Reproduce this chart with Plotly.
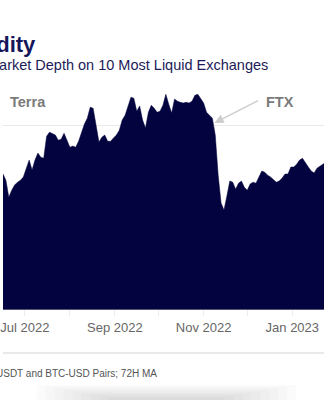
import pandas as pd
import plotly.graph_objects as go

# 2% market depth, BTC-USDT and BTC-USD pairs, 72H moving average ($M), sampled every 2 days
start_date = "2022-06-14"
depth_musd = [
    350, 367, 350, 304, 323, 337, 345, 350, 359, 383, 405, 378, 405, 424, 413, 410,
    470, 481, 478, 473, 459, 462, 478, 459, 440, 443, 440, 456, 481, 503, 519, 549,
    546, 497, 454, 467, 473, 456, 456, 465, 473, 486, 514, 527, 549, 576, 573, 538,
    552, 514, 492, 535, 554, 546, 535, 538, 554, 584, 557, 533, 571, 565, 562, 560,
    562, 560, 565, 581, 584, 573, 560, 535, 527, 519, 473, 364, 288, 269, 307, 348,
    345, 326, 342, 348, 331, 323, 340, 345, 342, 359, 375, 372, 364, 359, 353, 345,
    348, 356, 367, 367, 386, 386, 394, 405, 410, 397, 386, 375, 370, 383, 389, 394,
    399,
]
dates = pd.date_range(start_date, periods=len(depth_musd), freq="2D")

tick_months = ["2022-07-01", "2022-09-01", "2022-11-01", "2023-01-01"]
tick_labels = ["Jul 2022", "Sep 2022", "Nov 2022", "Jan 2023"]

events = {"FTX": ("2022-11-08 12:00", 506)}

title_text = "Bitcoin Liquidity"
subtitle_text = "2% Market Depth on 10 Most Liquid Exchanges"
note_text = "Note: BTC-USDT and BTC-USD Pairs; 72H MA"

NAVY = "#03033f"
FONT = "Liberation Sans, Arial, Helvetica, sans-serif"

W, H = 324, 400
TOP, BOTTOM = 70, 91
PLOT_H = H - TOP - BOTTOM


def xp(x_px):
    return x_px / W


def yp(y_px):
    return (H - BOTTOM - y_px) / PLOT_H


fig = go.Figure()
fig.add_trace(go.Scatter(
    x=dates, y=depth_musd, mode="lines", fill="tozeroy",
    line=dict(color=NAVY, width=0.5), fillcolor=NAVY,
    hoverinfo="skip", showlegend=False,
))

annotations = [
    dict(text=f"<b>{title_text}</b>", xref="paper", yref="paper",
         x=xp(35), y=yp(44), xanchor="right", yanchor="middle", showarrow=False,
         font=dict(family=FONT, size=22, color="#16165a")),
    dict(text=subtitle_text, xref="paper", yref="paper",
         x=xp(269), y=yp(64.5), xanchor="right", yanchor="middle", showarrow=False,
         font=dict(family=FONT, size=14.5, color="#1c1c58")),
    dict(text=note_text, xref="paper", yref="paper",
         x=xp(157), y=yp(373), xanchor="right", yanchor="middle", showarrow=False,
         font=dict(family=FONT, size=10, color="#555555")),
    dict(text="<b>Terra</b>", xref="paper", yref="paper",
         x=xp(25), y=yp(102), xanchor="center", yanchor="middle", showarrow=False,
         font=dict(family=FONT, size=14.5, color="#7a7a7a")),
    dict(text="<b>FTX</b>", xref="paper", yref="paper",
         x=xp(279.5), y=yp(102), xanchor="center", yanchor="middle", showarrow=False,
         font=dict(family=FONT, size=14.5, color="#7a7a7a")),
]
ftx_date, ftx_val = events["FTX"]
annotations.append(dict(
    text="", x=ftx_date, y=ftx_val, xref="x", yref="y",
    showarrow=True, ax=45, ay=-23, axref="pixel", ayref="pixel",
    arrowhead=2, arrowsize=1.3, arrowwidth=1.4, arrowcolor="#cccccc",
))

shapes = [
    dict(type="line", xref="paper", yref="paper", x0=0, x1=1, y0=yp(353), y1=yp(353),
         line=dict(color="#d4d4d4", width=1)),
]
# soft drop shadow along the bottom edge of the card
for k in range(9):
    shapes.append(dict(
        type="rect", xref="paper", yref="paper", layer="below",
        x0=xp(34 + k * 9), x1=xp(296 - k * 9), y0=yp(385 + k * 1.6), y1=yp(412),
        fillcolor="rgba(0,0,0,0.014)", line=dict(width=0),
    ))

fig.update_layout(
    width=W, height=H,
    margin=dict(l=0, r=0, t=TOP, b=BOTTOM, pad=0),
    paper_bgcolor="white", plot_bgcolor="white",
    annotations=annotations, shapes=shapes,
    showlegend=False,
    xaxis=dict(
        type="date", range=["2022-06-16", "2023-01-22 19:00"],
        tickvals=tick_months, ticktext=tick_labels,
        ticklabeloverflow="allow",
        ticks="outside", ticklen=6, tickcolor="#ececec", tickwidth=1,
        minor=dict(ticks="outside", dtick="M1", tick0="2022-07-01",
                   ticklen=6, tickcolor="#ececec", showgrid=False),
        showgrid=False, showline=True, linecolor="#55557a", linewidth=1,
        tickfont=dict(family=FONT, size=13, color="#666666"),
        zeroline=False, fixedrange=True,
    ),
    yaxis=dict(
        range=[0, 650], dtick=250, showgrid=True, gridcolor="#e9e9e9", gridwidth=1,
        showticklabels=False, zeroline=False, showline=False, ticks="",
        fixedrange=True,
    ),
)

fig.write_html("out.html")
